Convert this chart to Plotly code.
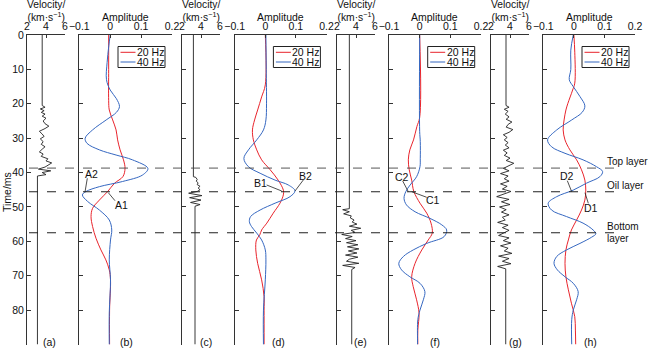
import plotly.graph_objects as go

W, H = 650, 350
def px(x): return x / W
def py(y): return 1 - y / H

FONT = "Liberation Sans, Arial, sans-serif"
RED = "#e8242c"
BLUE = "#3567c0"
AX = "#333333"

# ---------------- data ----------------
time_ticks = [0, 10, 20, 30, 40, 50, 60, 70, 80, 90]
vel_ticks = [2, 4, 6]
amp_ticks = [-0.1, 0, 0.1, 0.2]
layer_times = [38.7, 45.6, 57.5]
panel_labels = ["(a)", "(b)", "(c)", "(d)", "(e)", "(f)", "(g)", "(h)"]

# velocity logs (time ms, km/s)
a_vt = [0, 20.5, 21.0, 21.5, 22.0, 22.5, 23.0, 23.6, 24.2, 25.0, 25.8, 26.5, 27.2, 28.0, 28.8, 29.5,
        30.2, 31.0, 31.8, 32.5, 33.2, 34.0, 34.6, 35.3, 36.0, 36.6, 37.2, 37.8, 38.4, 39.0, 39.5,
        40.0, 40.6, 41.0, 90]
a_vv = [3.6, 3.6, 3.9, 3.4, 3.8, 3.5, 3.9, 3.6, 4.0, 3.7, 3.9, 4.3, 3.9, 3.3, 3.6, 3.8,
        3.4, 3.7, 3.5, 3.9, 3.6, 3.3, 3.7, 3.5, 4.2, 4.0, 4.6, 4.3, 3.9, 3.2, 4.5,
        3.6, 4.0, 3.1, 3.1]
c_vt = [0, 41.2, 41.4, 42.0, 42.5, 43.0, 43.5, 44.0, 44.5, 45.0, 45.5, 46.0, 46.7, 47.3, 48.0,
        48.7, 49.3, 49.8, 90]
c_vv = [3.2, 3.2, 3.45, 3.6, 3.5, 3.7, 3.6, 3.9, 3.7, 3.9, 3.6, 2.7, 4.1, 2.8, 4.0,
        2.9, 3.9, 3.37, 3.37]
e_vt = [0, 50.5, 50.8, 51.4, 52.0, 52.6, 53.2, 53.8, 54.4, 55.0, 55.6, 56.2, 56.8, 57.4, 58.0,
        58.6, 59.2, 59.8, 60.4, 61.0, 61.6, 62.2, 62.8, 63.4, 64.0, 64.6, 65.2, 65.8, 66.4, 67.0,
        67.6, 68.2, 90]
e_vv = [3.3, 3.3, 2.6, 3.3, 2.7, 3.5, 3.4, 3.8, 3.6, 4.1, 3.3, 4.5, 3.5, 3.9, 2.5,
        3.6, 2.9, 4.0, 3.0, 4.2, 3.1, 4.3, 3.2, 4.1, 2.9, 4.2, 3.3, 3.0, 4.3, 2.6,
        3.9, 3.55, 3.55]
g_vt = [0, 20.5, 21.0, 21.6, 22.2, 23.0, 23.8, 24.5, 25.3, 26.0, 26.8, 27.5, 28.3, 29.0, 29.8,
        30.5, 31.3, 32.0, 32.8, 33.5, 34.3, 35.0, 35.8, 36.5, 37.3, 38.0, 38.8, 39.5, 40.3, 41.0,
        41.8, 42.5, 43.3, 44.0, 44.8, 45.5, 46.3, 47.0, 47.8, 48.5, 49.3, 50.0, 50.8, 51.5, 52.3,
        53.0, 53.8, 54.5, 55.3, 56.0, 56.8, 57.5, 58.3, 59.0, 59.8, 60.5, 61.3, 62.0, 62.8, 63.5,
        64.3, 65.0, 65.8, 66.5, 67.3, 68.0, 90]
g_vv = [3.58, 3.58, 3.9, 3.4, 3.8, 3.5, 3.9, 3.6, 4.2, 3.8, 3.6, 4.3, 3.9, 3.3, 3.7,
        3.4, 3.8, 3.5, 3.9, 3.3, 3.7, 3.4, 4.0, 3.6, 4.4, 3.8, 3.3, 3.9, 3.0, 3.8,
        3.4, 3.9, 3.0, 3.7, 3.2, 4.1, 3.4, 2.6, 3.9, 3.1, 4.0, 2.9, 3.6, 3.1, 3.9,
        3.2, 3.5, 2.7, 3.8, 3.2, 3.9, 3.4, 2.8, 3.9, 3.3, 4.1, 3.0, 3.8, 3.4, 4.2,
        2.8, 3.9, 3.2, 4.1, 2.7, 3.55, 3.55]

# amplitude traces (time ms, amplitude)
b_t20 = [0, 10, 19, 21.8, 24.7, 27.6, 30.5, 33.4, 36.3, 38.8, 41.2, 43.1, 45.5, 48, 50.4, 52.8,
         55.7, 59.1, 62.5, 65.4, 68.3, 71.2, 80, 90]
b_a20 = [-0.005, -0.005, -0.005, -0.003, 0.008, 0.019, 0.024, 0.032, 0.043, 0.048, 0.041, 0.014,
         -0.008, -0.035, -0.057, -0.062, -0.057, -0.046, -0.030, -0.014, -0.003, 0.001, -0.002, -0.002]
b_t40 = [0, 3.5, 8, 13, 16, 18.5, 20.8, 22.5, 24.7, 27.6, 30, 31.5, 33.4, 34.9, 36.3, 38.8, 40.7,
         42.6, 44.1, 45.5, 46.5, 48.4, 50.9, 53.8, 56.7, 59.6, 65.4, 71.2, 80.8, 90]
b_a40 = [0, -0.005, -0.01, -0.012, 0, 0.02, 0.03, 0.02, -0.013, -0.057, -0.081, -0.075, -0.035,
         0.019, 0.072, 0.122, 0.105, 0.040, -0.035, -0.078, -0.09, -0.073, -0.035, -0.003, 0.005,
         0.001, -0.003, 0.001, -0.003, -0.003]

d_t20 = [0, 14.5, 18, 21.8, 24.7, 27.6, 30.5, 33.4, 36.3, 39.2, 42.2, 45.1, 46.5, 48.9, 51.8, 54.7,
         56.7, 58.1, 59.6, 62.5, 66.4, 71.2, 76.1, 80, 90]
d_a20 = [0, 0, -0.012, -0.025, -0.035, -0.042, -0.039, -0.028, -0.012, 0.016, 0.042, 0.059, 0.059,
         0.048, 0.026, 0.005, -0.012, -0.018, -0.029, -0.031, -0.025, -0.012, -0.004, -0.004, -0.004]
d_t40 = [0, 10, 20, 24.7, 27.6, 30.5, 33.4, 35.9, 38.3, 40.2, 42.2, 43.6, 45.3, 47, 48.9, 50.9, 52.8,
         54.3, 55.7, 57.6, 59.6, 62.5, 65.4, 71.2, 80, 90]
d_a40 = [0.002, 0.003, 0.004, 0.002, -0.006, -0.028, -0.055, -0.070, -0.055, -0.017, 0.032, 0.075,
         0.097, 0.081, 0.032, -0.017, -0.048, -0.052, -0.045, -0.028, -0.012, 0, 0.002, 0, -0.006, -0.006]

f_t20 = [0, 24, 26.6, 30.5, 33.4, 36.3, 39.2, 42.2, 45.5, 48.9, 51.8, 54.7, 57.6, 59.6, 62.5, 66.4,
         70.3, 73.2, 77, 80.9, 85.8, 90]
f_a20 = [0, 0, -0.009, -0.020, -0.032, -0.037, -0.034, -0.026, -0.019, 0.001, 0.023, 0.037, 0.041,
         0.028, 0.007, -0.015, -0.026, -0.021, -0.010, -0.002, -0.006, -0.006]
f_t40 = [0, 28, 31, 36, 38.3, 41.2, 43.6, 45.5, 47.5, 49.4, 51.4, 53.3, 55.2, 56.7, 58.6, 60.6, 62.5,
         64.4, 66.4, 68.3, 70.3, 72.2, 74.6, 77, 80, 82.8, 88.7, 90]
f_a40 = [0, 0, 0.002, 0.002, 0.001, -0.01, -0.031, -0.045, -0.051, -0.043, -0.015, 0.033, 0.072, 0.088,
         0.080, 0.023, -0.021, -0.053, -0.068, -0.059, -0.032, 0.001, 0.017, 0.012, 0.001, -0.006,
         -0.007, -0.007]

h_t20 = [0, 5, 14, 16, 20, 21.8, 24.7, 27.6, 30.5, 33.4, 36.3, 39.2, 42.2, 45.1, 48, 50.9, 53.8, 56.7,
         59.6, 62.5, 66.4, 70.3, 74.1, 78, 81.9, 85.8, 90]
h_a20 = [0, 0.003, 0.003, -0.004, -0.02, -0.026, -0.032, -0.035, -0.029, -0.013, 0.009, 0.025, 0.036,
         0.039, 0.036, 0.025, 0.009, -0.008, -0.018, -0.026, -0.029, -0.026, -0.018, -0.008, 0.003,
         0.005, 0.006]
h_t40 = [0, 4.4, 10, 13, 15, 17.9, 20.6, 22.5, 24.7, 27.6, 30.5, 32.5, 34.4, 36.3, 38.3, 39.7, 41.2,
         43.1, 45.1, 47, 48.9, 50.9, 52.8, 54.7, 56.7, 57.8, 58.8, 60.6, 62.5, 64.4, 66.4, 68.3, 70.3,
         72.2, 74.6, 77, 80, 82.8, 90]
h_a40 = [-0.002, -0.01, -0.01, -0.015, -0.002, 0.02, 0.036, 0.027, -0.007, -0.056, -0.086, -0.073,
         -0.029, 0.030, 0.074, 0.094, 0.085, 0.041, -0.002, -0.056, -0.084, -0.073, -0.024, 0.030,
         0.063, 0.072, 0.058, 0.020, -0.024, -0.056, -0.065, -0.054, -0.029, -0.002, 0.014, 0.009,
         -0.002, -0.007, -0.007]

velocity = [(a_vt, a_vv), (c_vt, c_vv), (e_vt, e_vv), (g_vt, g_vv)]
amplitude = [((b_t20, b_a20), (b_t40, b_a40)), ((d_t20, d_a20), (d_t40, d_a40)),
             ((f_t20, f_a20), (f_t40, f_a40)), ((h_t20, h_a20), (h_t40, h_a40))]

# ---------------- layout geometry (pixels) ----------------
vel_dom = [(27, 65), (182, 220), (337, 375), (491, 529)]
amp_dom = [(79.3, 172), (234.7, 326.5), (389, 481), (543.3, 635)]
Y_TOP, Y_BOT = 35, 344.5

fig = go.Figure()
layout = dict(width=W, height=H, margin=dict(l=0, r=0, t=0, b=0, pad=0, autoexpand=False),
              plot_bgcolor="white", paper_bgcolor="white", showlegend=False,
              font=dict(family=FONT, size=11, color="#111"))
annotations = []
shapes = []

def note(text, x, y, xanchor="center", size=10.5, **kw):
    d = dict(text=text, x=px(x), y=py(y), xref="paper", yref="paper", xanchor=xanchor,
             yanchor="middle", showarrow=False, font=dict(size=size), borderpad=0)
    d.update(kw)
    annotations.append(d)

for k in range(8):
    i = k + 1
    sfx = "" if i == 1 else str(i)
    is_vel = (k % 2 == 0)
    dom = vel_dom[k // 2] if is_vel else amp_dom[k // 2]
    layout["xaxis" + sfx] = dict(
        domain=[px(dom[0]), px(dom[1])], anchor="y" + sfx, side="top", automargin=False,
        range=[2, 6] if is_vel else [-0.1, 0.2],
        tickvals=vel_ticks if is_vel else amp_ticks,
        ticktext=None if is_vel else ["\u22120.1", "0", "0.1", "0.2"],
        ticks="inside", ticklen=3, tickcolor=AX, showline=True, linecolor=AX, linewidth=1,
        showgrid=False, zeroline=False, tickfont=dict(size=10.5, color="#111"))
    layout["yaxis" + sfx] = dict(
        domain=[py(Y_BOT), py(Y_TOP)], anchor="x" + sfx, range=[90, 0], automargin=False,
        tickvals=time_ticks, ticks="inside", ticklen=4, tickcolor=AX,
        showticklabels=(i == 1), showline=True, linecolor=AX, linewidth=1,
        showgrid=False, zeroline=False, tickfont=dict(size=10.5, color="#111"))
    if i != 1:
        layout["yaxis" + sfx]["matches"] = "y"
    xa, ya = "x" + sfx, "y" + sfx
    cx = (dom[0] + dom[1]) / 2
    if is_vel:
        t, v = velocity[k // 2]
        fig.add_trace(go.Scatter(x=v, y=t, mode="lines", xaxis=xa, yaxis=ya,
                                 line=dict(color="#222", width=0.9)))
        note("Velocity/<br>(km\u00b7s<sup>\u22121</sup>)", cx, 10.8, size=10.3)
    else:
        (t20, a20), (t40, a40) = amplitude[k // 2]
        fig.add_trace(go.Scatter(x=a20, y=t20, mode="lines", xaxis=xa, yaxis=ya,
                                 line=dict(color=RED, width=1, shape="spline", smoothing=1)))
        fig.add_trace(go.Scatter(x=a40, y=t40, mode="lines", xaxis=xa, yaxis=ya,
                                 line=dict(color=BLUE, width=1, shape="spline", smoothing=1)))
        note("Amplitude", cx, 16.5)
        # legend box
        bx0 = dom[0] + 38.7
        bx1 = bx0 + 47
        by0, by1 = 46.5, 67.5
        shapes.append(dict(type="rect", xref="paper", yref="paper", x0=px(bx0), x1=px(bx1),
                           y0=py(by1), y1=py(by0), line=dict(color="#222", width=1),
                           fillcolor="white", layer="above"))
        for (name, col, yy) in [("20 Hz", RED, 52.3), ("40 Hz", BLUE, 62)]:
            shapes.append(dict(type="line", xref="paper", yref="paper", x0=px(bx0 + 2.5),
                               x1=px(bx0 + 17.5), y0=py(yy), y1=py(yy),
                               line=dict(color=col, width=1), layer="above"))
            note(name, bx0 + 18, yy, xanchor="left")

# panel labels
label_x = [49, 126.7, 205.7, 278, 360.7, 435, 515, 590]
for lx, lab in zip(label_x, panel_labels):
    note(lab, lx, 342)

# y title
note("Time/ms", 7, 192, textangle=-90)

# layer lines
for j, lt in enumerate(layer_times):
    shapes.append(dict(type="line", xref="paper", yref="y", x0=px(29), x1=px(617), y0=lt, y1=lt,
                       line=dict(color="#222" if j else "#444", width=1.1 if j else 0.9, dash="dash"),
                       layer="above"))
note("Top layer", 606, 161.5, xanchor="left", size=10)
note("Oil layer", 606, 185, xanchor="left", size=10)
note("Bottom", 606, 226.5, xanchor="left", size=10)
note("layer", 606, 238.5, xanchor="left", size=10)

# point labels with leader lines (text px, line start px, line end px)
callouts = [("A2", 91, 173.5, 87.3, 178.3, 85, 192),
            ("A1", 121.7, 205, 115, 200.7, 108.3, 192.7),
            ("B1", 260, 183.3, 266.7, 185, 281.7, 191),
            ("B2", 305.7, 176, 303.3, 180, 295, 191),
            ("C2", 401.7, 176.7, 402.7, 181, 408.3, 191.7),
            ("C1", 432.5, 200, 426.7, 197.3, 411.7, 191.7),
            ("D2", 566.7, 176, 567.3, 180.7, 571.7, 191.7),
            ("D1", 590.8, 208.3, 588.3, 203.3, 585, 192.7)]
for (txt, tx, ty, lx0, ly0, lx1, ly1) in callouts:
    note(txt, tx, ty)
    shapes.append(dict(type="line", xref="paper", yref="paper", x0=px(lx0), y0=py(ly0),
                       x1=px(lx1), y1=py(ly1), line=dict(color="#222", width=0.8), layer="above"))

layout["annotations"] = annotations
layout["shapes"] = shapes
fig.update_layout(**layout)
fig.write_html("out.html")
